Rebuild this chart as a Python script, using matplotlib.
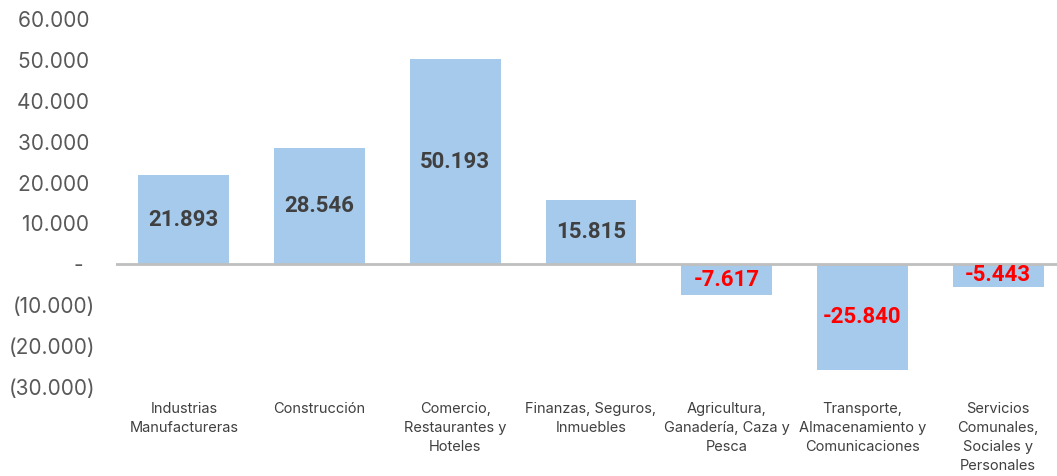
import matplotlib.pyplot as plt

categorias = ["Industrias\nManufactureras", "Construcción", "Comercio,\nRestaurantes y\nHoteles",
              "Finanzas, Seguros,\nInmuebles", "Agricultura,\nGanadería, Caza y\nPesca",
              "Transporte,\nAlmacenamiento y\nComunicaciones", "Servicios\nComunales,\nSociales y\nPersonales"]
valores = [21893, 28546, 50193, 15815, -7617, -25840, -5443]
yticks = [-30000, -20000, -10000, 0, 10000, 20000, 30000, 40000, 50000, 60000]


def fmt_num(v):
    s = f"{abs(v):,.0f}".replace(",", ".")
    return s


def fmt_tick(v):
    if v == 0:
        return "-  "
    if v < 0:
        return "(" + fmt_num(v) + ")"
    return fmt_num(v) + " "


fig = plt.figure(figsize=(10.57, 4.76), dpi=100)
# el eje se sale un poco por la derecha, como en el original
ax = fig.add_axes([116 / 1057, 89 / 476, 950 / 1057, 368 / 476])

x = range(len(categorias))
ax.bar(x, valores, width=0.67, color="#A6CAEC", zorder=2)
ax.axhline(0, color="#BFBFBF", lw=2, zorder=3)

for i, v in zip(x, valores):
    col = "#FF0000" if v < 0 else "#404040"
    ax.text(i, v / 2, f"{'-' if v < 0 else ''}{fmt_num(v)}", ha="center", va="center",
            fontsize=16, fontweight="bold", color=col, family="Roboto", zorder=4)

ax.set_xlim(-0.5, len(categorias) - 0.5)
ax.set_ylim(-30000, 60000)
ax.set_yticks(yticks)
ax.set_yticklabels([fmt_tick(t) for t in yticks], fontsize=15, color="#595959", family="Inter")
ax.set_xticks(list(x))
ax.set_xticklabels(categorias, fontsize=10.5, color="#404040", family="Inter", linespacing=1.45)
ax.tick_params(axis="y", length=0, pad=15)
ax.tick_params(axis="x", length=0, pad=11)
for s in ax.spines.values():
    s.set_visible(False)

fig.savefig("out.png", dpi=100)
